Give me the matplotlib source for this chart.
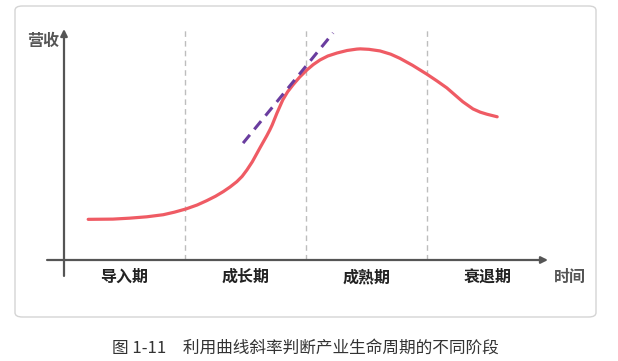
import matplotlib
matplotlib.use("Agg")
import matplotlib.pyplot as plt
from matplotlib.patches import FancyBboxPatch

plt.rcParams['font.family'] = ['Noto Sans CJK SC', 'DejaVu Sans']

# revenue curve (time, revenue)
time = [0.50, 1.01, 1.35, 1.71, 2.05, 2.28, 2.52, 2.75, 2.95, 3.13, 3.29, 3.43,
        3.57, 3.68, 3.78, 3.89, 3.99, 4.05, 4.12, 4.19, 4.25, 4.30, 4.40, 4.52,
        4.62, 4.73, 4.87, 5.02, 5.15, 5.29, 5.45, 5.64, 5.85, 6.05, 6.12, 6.30,
        6.53, 6.75, 6.94, 7.20, 7.50, 7.70, 7.91, 8.08, 8.24, 8.45, 8.60, 8.74,
        8.95]
revenue = [1.76, 1.77, 1.81, 1.87, 1.96, 2.07, 2.21, 2.38, 2.57, 2.76, 2.96, 3.16,
           3.39, 3.62, 3.90, 4.25, 4.63, 4.86, 5.12, 5.38, 5.62, 5.84, 6.36, 6.93,
           7.28, 7.58, 7.92, 8.23, 8.46, 8.66, 8.83, 8.96, 9.07, 9.13, 9.14, 9.12,
           9.05, 8.91, 8.73, 8.43, 8.04, 7.76, 7.45, 7.14, 6.85, 6.54, 6.40, 6.31,
           6.20]

tangent_x = [3.70, 5.56]
tangent_y = [5.06, 9.83]

stage_bounds = [2.5, 5.0, 7.5]
stages = ["导入期", "成长期", "成熟期", "衰退期"]
stage_centers = [1.25, 3.75, 6.25, 8.75]

caption = "图 1-11　利用曲线斜率判断产业生命周期的不同阶段"

fig = plt.figure(figsize=(6.18, 3.61), dpi=100)

# rounded frame
frame = FancyBboxPatch((15 / 618, 44 / 361), 581 / 618, 311 / 361,
                       boxstyle="round,pad=0,rounding_size=0.012",
                       transform=fig.transFigure, facecolor="white",
                       edgecolor="#d4d4d4", linewidth=1.0, zorder=-5)
fig.patches.append(frame)

ax = fig.add_axes([64 / 618, 101 / 361, 484 / 618, 231 / 361])
ax.set_zorder(2)
ax.set_xlim(0, 10)
ax.set_ylim(0, 10)
ax.axis("off")

axis_color = "#555555"
# axes with arrows
ax.annotate("", xy=(10, 0), xytext=(-0.35, 0),
            arrowprops=dict(arrowstyle="-|>", color=axis_color, lw=1.6,
                            mutation_scale=10, shrinkA=0, shrinkB=0),
            annotation_clip=False)
ax.annotate("", xy=(0, 10), xytext=(0, -0.69),
            arrowprops=dict(arrowstyle="-|>", color=axis_color, lw=1.6,
                            mutation_scale=10, shrinkA=0, shrinkB=0),
            annotation_clip=False)

for b in stage_bounds:
    ax.plot([b, b], [0, 10], color="#bdbdbd", lw=1.0, ls=(0, (4, 3)), zorder=1)

ax.plot(time, revenue, color="#ef5b64", lw=2.3, solid_capstyle="round",
        solid_joinstyle="round", zorder=3)
ax.plot(tangent_x, tangent_y, color="#6a3d9f", lw=2.2, ls=(0, (3.5, 2.3)), zorder=4)

for name, cx in zip(stages, stage_centers):
    ax.text(cx, -0.74, name, ha="center", va="center", fontsize=11.5,
            fontweight="bold", color="#222222")

ax.text(10.45, -0.74, "时间", ha="center", va="center", fontsize=11.5,
        fontweight="bold", color="#555555")
ax.text(-0.44, 9.5, "营收", ha="center", va="center", fontsize=11.5,
        fontweight="bold", color="#555555")

fig.text(305 / 618, 1 - 348 / 361, caption, ha="center", va="center",
         fontsize=12, fontweight="medium", color="#333333")

fig.savefig("out.png", dpi=100)
